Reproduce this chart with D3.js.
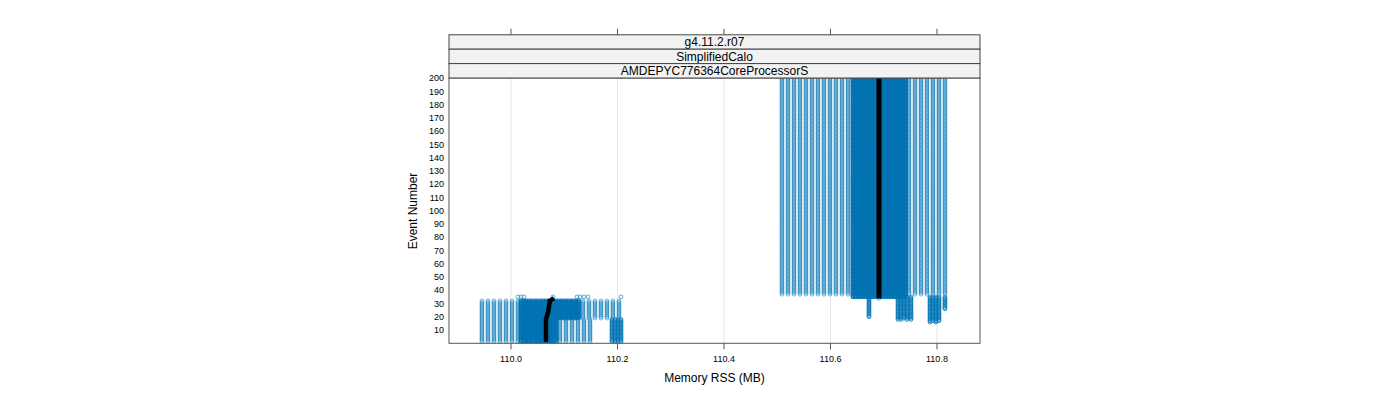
<!DOCTYPE html>
<html><head><meta charset="utf-8">
<script src="https://cdn.jsdelivr.net/npm/d3@7"></script>
<style>
body{margin:0;background:#fff;}
text{font-family:"Liberation Sans",Arial,sans-serif;}
</style></head>
<body><svg id="c" width="1400" height="400"></svg>
<script>
// ---- data (Memory RSS in MB per run column, and the event range it covers) ----
const stripLabels = ["g4.11.2.r07", "SimplifiedCalo", "AMDEPYC776364CoreProcessorS"];
const xTicks = [110.0, 110.2, 110.4, 110.6, 110.8];
const yTicks = [10,20,30,40,50,60,70,80,90,100,110,120,130,140,150,160,170,180,190,200];

// early runs, events 1-32
const lowAllMem = [109.9455,109.9568,109.9681,109.9793,109.9906,110.0019,110.0131];
const lowAllDenseMem = [110.0188,110.0235,110.0282,110.0329,110.0376,110.0423,110.0469,110.0516,110.0563,
  110.0610,110.0657,110.0704,110.0751,110.0798,110.0845];
const lowAllEvents = [1, 32];
// runs covering events 19-32
const lowLateDenseMem = [110.0892,110.0939,110.0986,110.1033,110.1080,110.1127,110.1174,110.1221,110.1268];
const lowLateMem = [110.1352,110.1465,110.1577,110.1690,110.1803,110.1915,110.2028];
const lowLateEvents = [19, 32];
// runs covering events 1-18
const lowEarlyMem = [110.0920,110.1033,110.1146,110.1258,110.1371,110.1484];
const lowEarlyDenseMem = [110.1897,110.1953,110.2009,110.2066];
const lowEarlyEvents = [1, 18];
// final points of early runs (event 35)
const lowEndMem = [110.0131,110.0188,110.0244,110.0789,110.1239,110.1296,110.1371,110.1446,110.2066];
const lowEndEvent = 35;

// later runs, high memory
const highWideMem = [110.5089,110.5202,110.5315,110.5427,110.5540,110.5653,110.5765,110.5878,
  110.5991,110.6103,110.6216,110.6329,
  110.7474,110.7587,110.7700,110.7812,110.7925,110.8038,110.8150];
const highWideEvents = [37, 200];
const highCoreMem = [110.6423,110.6469,110.6516,110.6563,110.6610,110.6657,110.6704,110.6751,
  110.6798,110.6845,110.6892,110.6939,110.6986,110.7033,110.7080,110.7127,110.7174,110.7221,
  110.7268,110.7315,110.7362,110.7408];
const highCoreEvents = [35, 200];
// runs that jumped early
const jumpMem =   [110.6723,110.7268,110.7324,110.7380,110.7437,110.7512,110.7869,110.7925,110.7981,110.8038,110.8150];
const jumpStart = [20,      18,      18,      19,      18,      18,      16,      17,      16,      17,      26];
const jumpEnd = 35;

// reference (black) line
const refLowMem = [110.0657,110.0657,110.0700,110.0730,110.0808];
const refLowEvt = [1, 18, 24, 32, 34];
const refHighMem = [110.6911,110.6911];
const refHighEvt = [34, 200];

// ---- layout ----
const svg = d3.select("#c");
const L = 449, R = 980, T = 78, B = 343.3;
const x = d3.scaleLinear().domain([109.8836, 110.8808]).range([L, R]);
const y = d3.scaleLinear().domain([0, 200]).range([B, T]);
const blue = "#0072B2";

// grid
svg.append("g").selectAll("line").data(xTicks).join("line")
  .attr("x1", d => x(d)).attr("x2", d => x(d)).attr("y1", T).attr("y2", B)
  .attr("stroke", "#e8e8e8").attr("stroke-width", 1);

// build points  [mem, event, strokeWidth]
const pts = [];
function addCols(mems, e0, e1, sw){ mems.forEach(m => { for(let e=e0;e<=e1;e++) pts.push([m,e,sw]); }); }
addCols(lowAllMem, lowAllEvents[0], lowAllEvents[1], 0.5);
addCols(lowAllDenseMem, lowAllEvents[0], lowAllEvents[1], 1.1);
addCols(lowLateDenseMem, lowLateEvents[0], lowLateEvents[1], 1.1);
addCols(lowLateMem, lowLateEvents[0], lowLateEvents[1], 0.5);
addCols(lowEarlyMem, lowEarlyEvents[0], lowEarlyEvents[1], 0.5);
addCols(lowEarlyDenseMem, lowEarlyEvents[0], lowEarlyEvents[1], 0.8);
lowEndMem.forEach(m => pts.push([m, lowEndEvent, 0.6]));
addCols(highWideMem, highWideEvents[0], highWideEvents[1], 0.5);
addCols(highCoreMem, highCoreEvents[0], highCoreEvents[1], 1.1);
jumpMem.forEach((m,i) => { for(let e=jumpStart[i]; e<=jumpEnd; e++) pts.push([m,e,0.8]); });
pts.push([refHighMem[0], 34, 0.6]);

svg.append("clipPath").attr("id","clip").append("rect").attr("x",L).attr("y",T).attr("width",R-L).attr("height",B-T);
const gp = svg.append("g").attr("clip-path", "url(#clip)");
gp.selectAll("circle").data(pts).join("circle")
  .attr("cx", d => x(d[0])).attr("cy", d => y(d[1])).attr("r", 1.9)
  .attr("fill", "none").attr("stroke", blue).attr("stroke-width", d => d[2]);

const line = d3.line().x(d => x(d[0])).y(d => y(d[1]));
gp.append("path").datum(refLowMem.map((m,i)=>[m, refLowEvt[i]]))
  .attr("d", line).attr("fill","none").attr("stroke","#000").attr("stroke-width",4.5);
gp.append("path").datum(refHighMem.map((m,i)=>[m, refHighEvt[i]]))
  .attr("d", line).attr("fill","none").attr("stroke","#000").attr("stroke-width",5);

// panel border
svg.append("rect").attr("x",L).attr("y",T).attr("width",R-L).attr("height",B-T)
  .attr("fill","none").attr("stroke","#555").attr("stroke-width",1);

// strips
const stripH = 14.4;
stripLabels.forEach((lab, i) => {
  const yy = T - stripH*(3-i);
  svg.append("rect").attr("x",L).attr("y",yy).attr("width",R-L).attr("height",stripH)
    .attr("fill","#f2f2f2").attr("stroke","#444").attr("stroke-width",1);
  svg.append("text").attr("x",(L+R)/2).attr("y",yy+stripH/2).attr("dy","0.36em")
    .attr("text-anchor","middle").attr("font-size",12).attr("fill","#000").text(lab);
});

// ticks top and bottom
const topY = T - stripH*3;
svg.append("g").selectAll("line").data(xTicks).join("line")
  .attr("x1", d => x(d)).attr("x2", d => x(d)).attr("y1", topY-6).attr("y2", topY)
  .attr("stroke","#555");
svg.append("g").selectAll("line").data(xTicks).join("line")
  .attr("x1", d => x(d)).attr("x2", d => x(d)).attr("y1", B).attr("y2", B+6)
  .attr("stroke","#555");
svg.append("g").selectAll("text").data(xTicks).join("text")
  .attr("x", d => x(d)).attr("y", B+15).attr("dy","0.36em").attr("text-anchor","middle")
  .attr("font-size",9).text(d => d.toFixed(1));
svg.append("g").selectAll("text").data(yTicks).join("text")
  .attr("x", 444).attr("y", d => y(d)).attr("dy","0.36em").attr("text-anchor","end")
  .attr("font-size",9).text(d => d);

// titles
svg.append("text").attr("x",(L+R)/2).attr("y",378).attr("dy","0.36em").attr("text-anchor","middle")
  .attr("font-size",12).text("Memory RSS (MB)");
svg.append("text").attr("transform","translate(413,211) rotate(-90)").attr("dy","0.36em")
  .attr("text-anchor","middle").attr("font-size",12).text("Event Number");
</script></body></html>
